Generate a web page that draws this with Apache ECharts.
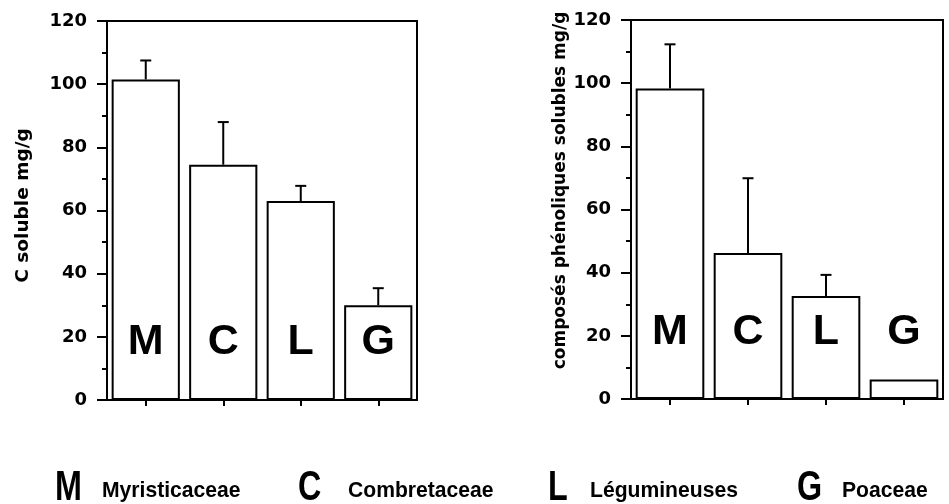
<!DOCTYPE html>
<html>
<head>
<meta charset="utf-8">
<script src="https://cdn.jsdelivr.net/npm/echarts@6/dist/echarts.min.js"></script>
<style>
  html, body { margin: 0; padding: 0; background: #fff; }
  #chart { width: 949px; height: 504px; }
</style>
</head>
<body>
<div id="chart"></div>
<script>
// données
const categories = ['M', 'C', 'L', 'G'];
const familyNames = ['Myristicaceae', 'Combretaceae', 'Légumineuses', 'Poaceae'];
const yTicks = [0, 20, 40, 60, 80, 100, 120];

const cSoluble = [101.5, 74.5, 63, 30];
const cSolubleErrTop = [107.5, 88, 67.8, 35.4];

const phenols = [98.3, 46.2, 32.6, 6.2];
const phenolsErrTop = [112.3, 69.9, 39.3, null];

// mise en page de la légende (x en pixels)
const legendLetterX = [55, 298, 548, 797];
const legendNameX = [102, 348, 590, 842];

const FONT_TXT = 'DejaVu Sans';
const FONT_LETTER = 'Liberation Sans';

function yAxisCfg(gridIndex, name, nameGap, nameSize, namePadding) {
  return {
    type: 'value',
    gridIndex: gridIndex,
    min: yTicks[0],
    max: yTicks[yTicks.length - 1],
    interval: yTicks[1] - yTicks[0],
    name: name,
    nameLocation: 'middle',
    nameGap: nameGap,
    nameTextStyle: {
      fontFamily: FONT_TXT, fontWeight: 'bold', fontSize: nameSize, color: '#000',
      padding: namePadding
    },
    axisLine: { show: true, lineStyle: { color: '#000', width: 2 } },
    axisTick: { show: true, inside: false, length: 10, lineStyle: { color: '#000', width: 2 } },
    minorTick: { show: true, splitNumber: 2, length: 5, lineStyle: { color: '#000', width: 2 } },
    axisLabel: {
      margin: 20, fontFamily: FONT_TXT, fontWeight: 'bold', fontSize: 18, color: '#000'
    },
    splitLine: { show: false }
  };
}

function xAxisCfg(gridIndex) {
  return {
    type: 'category',
    gridIndex: gridIndex,
    data: categories,
    axisLine: { show: true, lineStyle: { color: '#000', width: 2 } },
    axisTick: { show: true, alignWithLabel: true, length: 6, lineStyle: { color: '#000', width: 2 } },
    axisLabel: { show: false },
    splitLine: { show: false }
  };
}

function barSeries(idx, values, labelDist) {
  return {
    type: 'bar',
    xAxisIndex: idx,
    yAxisIndex: idx,
    data: values,
    barWidth: '88%',
    itemStyle: { color: '#fff', borderColor: '#000', borderWidth: 2 },
    label: {
      show: true,
      position: 'insideBottom',
      distance: labelDist,
      formatter: p => categories[p.dataIndex],
      fontFamily: FONT_LETTER, fontWeight: 'bold', fontSize: 43, color: '#000'
    },
    silent: true,
    z: 2
  };
}

function errSeries(idx, values, tops) {
  const data = [];
  values.forEach((v, i) => {
    if (tops[i] != null) data.push([i, v, tops[i]]);
  });
  return {
    type: 'custom',
    xAxisIndex: idx,
    yAxisIndex: idx,
    data: data,
    z: 3,
    silent: true,
    renderItem: function (params, api) {
      const i = api.value(0);
      const base = api.coord([i, api.value(1)]);
      const top = api.coord([i, api.value(2)]);
      const half = 5.5;
      const st = { stroke: '#000', lineWidth: 2 };
      return {
        type: 'group',
        children: [
          { type: 'line', shape: { x1: base[0], y1: base[1], x2: top[0], y2: top[1] }, style: st },
          { type: 'line', shape: { x1: top[0] - half, y1: top[1], x2: top[0] + half, y2: top[1] }, style: st }
        ]
      };
    }
  };
}

const graphics = [];
categories.forEach((c, i) => {
  graphics.push({
    type: 'text', x: legendLetterX[i], y: 488, scaleX: 0.77,
    style: {
      text: c, fill: '#000', font: 'bold 42px "' + FONT_LETTER + '"',
      textAlign: 'left', textVerticalAlign: 'middle'
    }
  });
  graphics.push({
    type: 'text', x: legendNameX[i], y: 491, scaleX: 0.96,
    style: {
      text: familyNames[i], fill: '#000', font: 'bold 22px "' + FONT_LETTER + '"',
      textAlign: 'left', textVerticalAlign: 'middle'
    }
  });
});

const chart = echarts.init(document.getElementById('chart'), null, { renderer: 'canvas' });
chart.setOption({
  backgroundColor: '#fff',
  animation: false,
  grid: [
    { left: 107, right: 532, top: 21, bottom: 104, show: true, borderColor: '#000', borderWidth: 2, backgroundColor: 'transparent' },
    { left: 631, right: 6, top: 20, bottom: 105, show: true, borderColor: '#000', borderWidth: 2, backgroundColor: 'transparent' }
  ],
  xAxis: [xAxisCfg(0), xAxisCfg(1)],
  yAxis: [
    yAxisCfg(0, 'C soluble mg/g', 74, 18.5, [0, 0, 0, 10]),
    yAxisCfg(1, 'composés phénoliques solubles mg/g', 57, 17, [0, 0, 0, 38])
  ],
  series: [
    barSeries(0, cSoluble, 36),
    errSeries(0, cSoluble, cSolubleErrTop),
    barSeries(1, phenols, 45),
    errSeries(1, phenols, phenolsErrTop)
  ],
  graphic: graphics
});
</script>
</body>
</html>
